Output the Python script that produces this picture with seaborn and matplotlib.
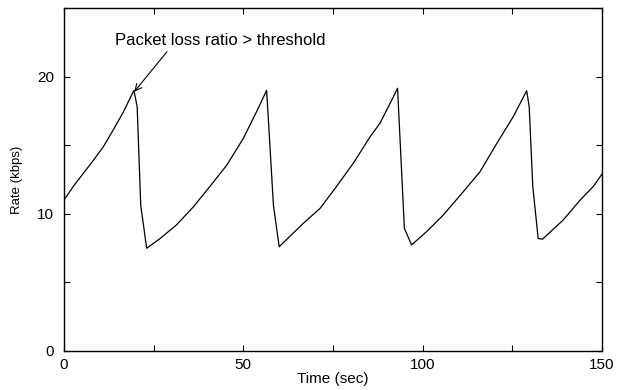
import matplotlib
matplotlib.use("Agg")
import matplotlib.pyplot as plt
import seaborn as sns
import pandas as pd
from matplotlib.ticker import MultipleLocator

time_sec = [0, 2.6, 5.4, 8.2, 11.0, 13.7, 16.5, 19.5, 20.4, 21.4, 23.05,
            26.8, 31.4, 36.05, 40.7, 45.4, 50.0, 53.7, 56.5,
            58.4, 60.0,
            66.7, 71.4, 76.0, 80.7, 85.3, 88.1, 91.4, 93.0,
            94.9, 96.9,
            101.1, 105.7, 111.3, 116.0, 120.6, 125.3, 129.0,
            129.7, 130.7, 132.2, 133.4,
            139.2, 143.9, 147.6, 150]
rate_kbps = [11.0, 12.0, 12.95, 13.9, 14.9, 16.1, 17.4, 19.0, 17.8, 10.6, 7.49,
             8.2, 9.2, 10.5, 12.0, 13.55, 15.5, 17.45, 19.0,
             10.6, 7.6,
             9.3, 10.4, 12.0, 13.7, 15.6, 16.6, 18.3, 19.15,
             8.94, 7.73,
             8.7, 9.9, 11.6, 13.07, 15.1, 17.1, 18.97,
             17.8, 12.0, 8.2, 8.15,
             9.55, 11.0, 12.0, 12.9]

x_ticks = [0, 50, 100, 150]
y_ticks = [0, 10, 20]
annotation_text = "Packet loss ratio > threshold"

sns.set_style("white")
plt.rcParams['font.family'] = ['Liberation Sans', 'DejaVu Sans']
plt.rcParams['text.color'] = 'black'
plt.rcParams['axes.labelcolor'] = 'black'
plt.rcParams['xtick.color'] = 'black'
plt.rcParams['ytick.color'] = 'black'

fig = plt.figure(figsize=(6.17, 3.90), dpi=100)
ax = fig.add_axes([64/617, 1-351/390, (602-64)/617, (351-8)/390])

df = pd.DataFrame({"Time (sec)": time_sec, "Rate (kbps)": rate_kbps})
sns.lineplot(data=df, x="Time (sec)", y="Rate (kbps)", ax=ax, color="black",
             linewidth=0.9, estimator=None, sort=False)

ax.set_xlim(0, 150)
ax.set_ylim(0, 25)
ax.set_xticks(x_ticks)
ax.set_yticks(y_ticks)
ax.set_xticklabels([str(v) for v in x_ticks])
ax.set_yticklabels([str(v) for v in y_ticks])
ax.xaxis.set_minor_locator(MultipleLocator(25))
ax.yaxis.set_minor_locator(MultipleLocator(5))
ax.tick_params(which="both", direction="in", length=4, width=0.8, color="black",
               labelcolor="black",
               top=True, right=True, bottom=True, left=True, labelsize=11)
ax.tick_params(axis="x", pad=5)
ax.tick_params(axis="y", pad=7)
for s in ax.spines.values():
    s.set_visible(True)
    s.set_color("black")
    s.set_linewidth(1.0)

ax.set_xlabel("Time (sec)", fontsize=11, labelpad=0, color="black")
ax.set_ylabel("Rate (kbps)", fontsize=9.5, labelpad=10, color="black")

ax.annotate(annotation_text, xy=(19.6, 18.9), xytext=(14.2, 22.6),
            fontsize=12, va="center", ha="left", color="black",
            arrowprops=dict(arrowstyle="->", color="black", lw=0.8,
                            shrinkA=0, shrinkB=0,
                            relpos=(0.26, 0.0)))

fig.savefig("out.png", dpi=100)
